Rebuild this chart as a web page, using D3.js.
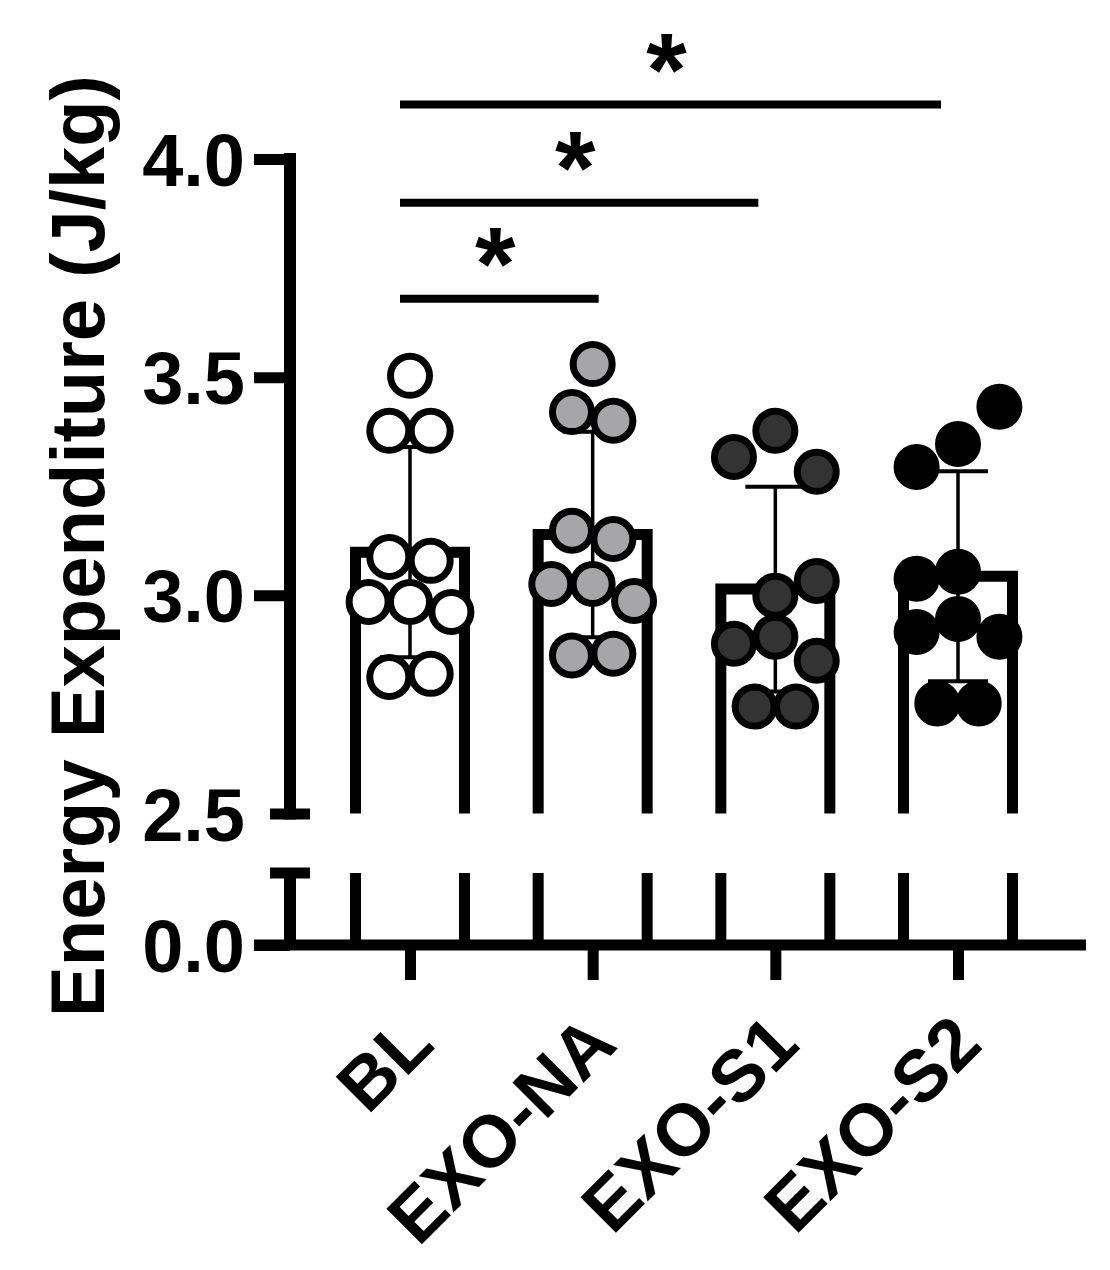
<!DOCTYPE html>
<html>
<head>
<meta charset="utf-8">
<script src="https://cdn.jsdelivr.net/npm/d3@7"></script>
<style>
  body { margin: 0; background: #fff; }
  text { font-family: "Liberation Sans", Arial, sans-serif; font-weight: bold; }
</style>
</head>
<body>
<div id="chart"></div>
<script>
// Groups and individual values
const groups = ["BL", "EXO-NA", "EXO-S1", "EXO-S2"];
const blValues    = [3.503, 3.377, 3.377, 3.088, 3.079, 2.985, 2.985, 2.962, 2.813, 2.820];
const exoNaValues = [3.530, 3.420, 3.400, 3.148, 3.129, 3.026, 3.026, 2.987, 2.862, 2.866];
const exoS1Values = [3.377, 3.317, 3.283, 3.033, 2.999, 2.889, 2.905, 2.850, 2.745, 2.745];
const exoS2Values = [3.432, 3.347, 3.294, 3.038, 3.054, 2.916, 2.946, 2.905, 2.752, 2.752];

// column slot of each dot in the scatter (-2 .. 2)
const blSlots    = [0, -1, 1, -1, 1, -2, 0, 2, -1, 1];
const exoNaSlots = [0, -1, 1, -1, 1, -2, 0, 2, -1, 1];
const exoS1Slots = [0, -2, 2, 2, 0, -2, 0, 2, -1, 1];
const exoS2Slots = [2, 0, -2, -2, 0, -2, 0, 2, -1, 1];

const upperTicks = [2.5, 3.0, 3.5, 4.0];
const lowerTicks = [0.0];

// significance brackets (level in y units)
const sigFrom  = ["BL", "BL", "BL"];
const sigTo    = ["EXO-NA", "EXO-S1", "EXO-S2"];
const sigLevel = [3.68, 3.90, 4.125];
const sigLabel = ["*", "*", "*"];

const dotFill = { "BL": "#ffffff", "EXO-NA": "#a6a6a8", "EXO-S1": "#333333", "EXO-S2": "#000000" };

const series = [
  { group: "BL", values: blValues, slots: blSlots },
  { group: "EXO-NA", values: exoNaValues, slots: exoNaSlots },
  { group: "EXO-S1", values: exoS1Values, slots: exoS1Slots },
  { group: "EXO-S2", values: exoS2Values, slots: exoS2Slots }
];
series.forEach(s => {
  s.mean = d3.mean(s.values);
  s.sd = d3.deviation(s.values);
});

const width = 1110, height = 1270;
const svg = d3.select("#chart").append("svg")
  .attr("width", width)
  .attr("height", height);

// scales: upper part of the broken axis and the small stub near zero
const x = d3.scalePoint().domain(groups).range([410, 958]);
const yUp = d3.scaleLinear().domain([2.5, 4.0]).range([813.5, 159]);
const yLow = d3.scaleLinear().domain([0, 0.165]).range([945, 873]);

const axisX = 290;
const barW = 109;
const dotR = 19.5;
const slotStep = 20.7;

// upper y axis
const gUp = svg.append("g")
  .attr("transform", `translate(${axisX},0)`)
  .call(d3.axisLeft(yUp).tickValues(upperTicks).tickSize(36).tickSizeOuter(0).tickPadding(9)
    .tickFormat(d3.format(".1f")));
gUp.select(".domain").attr("stroke-width", 12).attr("stroke-linecap", "square")
  .attr("d", `M0,${yUp(2.5)}V${yUp(4.0)}`);
gUp.selectAll(".tick line").attr("stroke-width", 11);
gUp.selectAll(".tick").filter(d => d === 2.5).select("line")
  .attr("x1", -20).attr("x2", 20);
gUp.selectAll(".tick text").attr("font-size", 74).attr("dy", "0.36em").attr("fill", "#000");

// lower stub of the y axis
const gLow = svg.append("g")
  .attr("transform", `translate(${axisX},0)`)
  .call(d3.axisLeft(yLow).tickValues(lowerTicks).tickSize(36).tickSizeOuter(0).tickPadding(9)
    .tickFormat(d3.format(".1f")));
gLow.select(".domain").attr("stroke-width", 12).attr("d", `M0,${yLow.range()[1]}V${yLow(0)}`);
gLow.selectAll(".tick line").attr("stroke-width", 11);
gLow.selectAll(".tick text").attr("font-size", 74).attr("dy", "0.36em").attr("fill", "#000");
gLow.append("line")
  .attr("x1", -20).attr("x2", 20)
  .attr("y1", yLow.range()[1]).attr("y2", yLow.range()[1])
  .attr("stroke", "#000").attr("stroke-width", 11);

// bars: open at the bottom of the upper part
svg.selectAll(".bar")
  .data(series)
  .enter().append("path")
  .attr("class", "bar")
  .attr("fill", "none")
  .attr("stroke", "#000")
  .attr("stroke-width", 11)
  .attr("stroke-linejoin", "miter")
  .attr("d", d => {
    const l = x(d.group) - barW / 2, r = x(d.group) + barW / 2;
    return `M${l},${yUp(2.5)}V${yUp(d.mean)}H${r}V${yUp(2.5)}`;
  });

// bar walls continued in the lower part
series.forEach(d => {
  [-1, 1].forEach(side => {
    svg.append("line")
      .attr("x1", x(d.group) + side * barW / 2).attr("x2", x(d.group) + side * barW / 2)
      .attr("y1", yLow.range()[1]).attr("y2", yLow(0))
      .attr("stroke", "#000").attr("stroke-width", 11);
  });
});

// x axis
svg.append("line")
  .attr("x1", 254).attr("x2", 1086)
  .attr("y1", yLow(0)).attr("y2", yLow(0))
  .attr("stroke", "#000").attr("stroke-width", 11);

const gX = svg.append("g")
  .attr("transform", `translate(0,${yLow(0)})`)
  .call(d3.axisBottom(x).tickSize(35).tickSizeOuter(0));
gX.select(".domain").remove();
gX.selectAll(".tick line").attr("stroke-width", 11);
gX.selectAll(".tick text")
  .attr("font-size", 73)
  .attr("fill", "#000")
  .attr("text-anchor", "end")
  .attr("y", 0)
  .attr("dy", 0)
  .attr("transform", "translate(26,102) rotate(-45)");

// error bars (mean +/- SD)
const err = svg.selectAll(".err")
  .data(series)
  .enter().append("g")
  .attr("class", "err");
err.append("line")
  .attr("x1", d => x(d.group)).attr("x2", d => x(d.group))
  .attr("y1", d => yUp(d.mean - d.sd)).attr("y2", d => yUp(d.mean + d.sd))
  .attr("stroke", "#000").attr("stroke-width", 3.5);
err.append("line")
  .attr("x1", d => x(d.group) - 30).attr("x2", d => x(d.group) + 30)
  .attr("y1", d => yUp(d.mean + d.sd)).attr("y2", d => yUp(d.mean + d.sd))
  .attr("stroke", "#000").attr("stroke-width", 4);
err.append("line")
  .attr("x1", d => x(d.group) - 30).attr("x2", d => x(d.group) + 30)
  .attr("y1", d => yUp(d.mean - d.sd)).attr("y2", d => yUp(d.mean - d.sd))
  .attr("stroke", "#000").attr("stroke-width", 4);

// individual dots
const dots = [];
series.forEach(s => {
  s.values.forEach((v, i) => dots.push({ group: s.group, value: v, slot: s.slots[i] }));
});
svg.selectAll(".dot")
  .data(dots)
  .enter().append("circle")
  .attr("class", "dot")
  .attr("cx", d => x(d.group) + d.slot * slotStep)
  .attr("cy", d => yUp(d.value))
  .attr("r", dotR)
  .attr("fill", d => dotFill[d.group])
  .attr("stroke", "#000")
  .attr("stroke-width", 7);

// significance lines and stars
const sig = sigFrom.map((f, i) => ({ from: f, to: sigTo[i], level: sigLevel[i], label: sigLabel[i] }));
// the shortest line runs a bit past the second bar's centre, the longer ones stop short of it
const sigX1 = d => x(d.from) - 10;
const sigX2 = d => x(d.to) + (d.to === groups[1] ? 6 : -17);
svg.selectAll(".sig-line")
  .data(sig)
  .enter().append("line")
  .attr("class", "sig-line")
  .attr("x1", sigX1)
  .attr("x2", sigX2)
  .attr("y1", d => yUp(d.level)).attr("y2", d => yUp(d.level))
  .attr("stroke", "#000").attr("stroke-width", 8);
svg.selectAll(".sig-star")
  .data(sig)
  .enter().append("text")
  .attr("class", "sig-star")
  .attr("x", d => (sigX1(d) + sigX2(d)) / 2 - 4)
  .attr("y", d => yUp(d.level) - 56)
  .attr("dy", "0.55em")
  .attr("text-anchor", "middle")
  .attr("font-size", 104)
  .text(d => d.label);

// y axis title
svg.append("text")
  .attr("transform", "translate(104,546) rotate(-90)")
  .attr("text-anchor", "middle")
  .attr("font-size", 76)
  .text("Energy Expenditure (J/kg)");
</script>
</body>
</html>
